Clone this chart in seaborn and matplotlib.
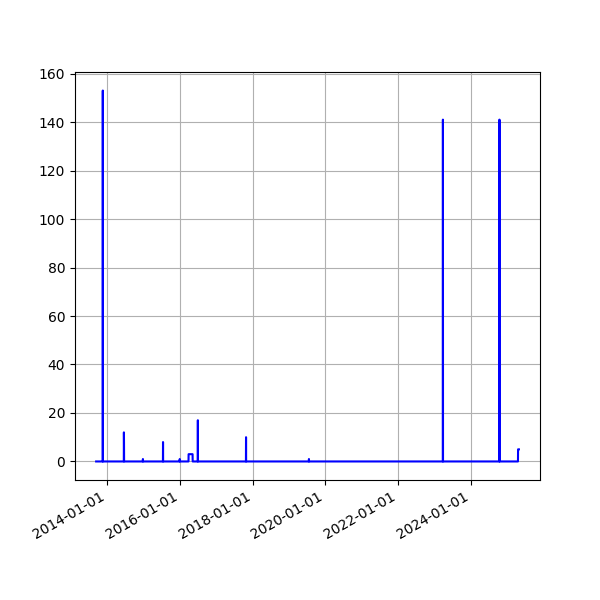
import pandas as pd
import matplotlib
matplotlib.use('Agg')
import matplotlib.pyplot as plt
import matplotlib.dates as mdates
import seaborn as sns

# readings per date (zeros either side of each spike)
dates = ['2013-09-13',
         '2013-11-18', '2013-11-19', '2013-11-20',
         '2014-06-18', '2014-06-19', '2014-06-20', '2014-06-21',
         '2014-12-26', '2014-12-27', '2014-12-28',
         '2015-07-16', '2015-07-17', '2015-07-18',
         '2015-12-31', '2016-01-01', '2016-01-02',
         '2016-03-29', '2016-03-30', '2016-05-09', '2016-05-10',
         '2016-06-30', '2016-07-01', '2016-07-02',
         '2017-10-27', '2017-10-28', '2017-10-29',
         '2019-07-21', '2019-07-22', '2019-07-23',
         '2023-03-28', '2023-03-29', '2023-03-30',
         '2024-10-16', '2024-10-17', '2024-10-18',
         '2025-04-21', '2025-04-22', '2025-04-30']
values = [0,
          0, 153, 0,
          0, 12, 8, 0,
          0, 1, 0,
          0, 8, 0,
          0, 1, 0,
          0, 3, 3, 0,
          0, 17, 0,
          0, 10, 0,
          0, 1, 0,
          0, 141, 0,
          0, 141, 0,
          0, 5, 5]

df = pd.DataFrame({'date': pd.to_datetime(dates), 'value': values})

fig = plt.figure(figsize=(6, 6), dpi=100)
ax = sns.lineplot(x=df['date'].values, y=df['value'].values, color='blue', linewidth=1.5)
ax.xaxis.set_major_locator(mdates.YearLocator(2))
ax.xaxis.set_major_formatter(mdates.DateFormatter('%Y-%m-%d'))
plt.grid(True)
fig.autofmt_xdate()
plt.savefig('out.png')
